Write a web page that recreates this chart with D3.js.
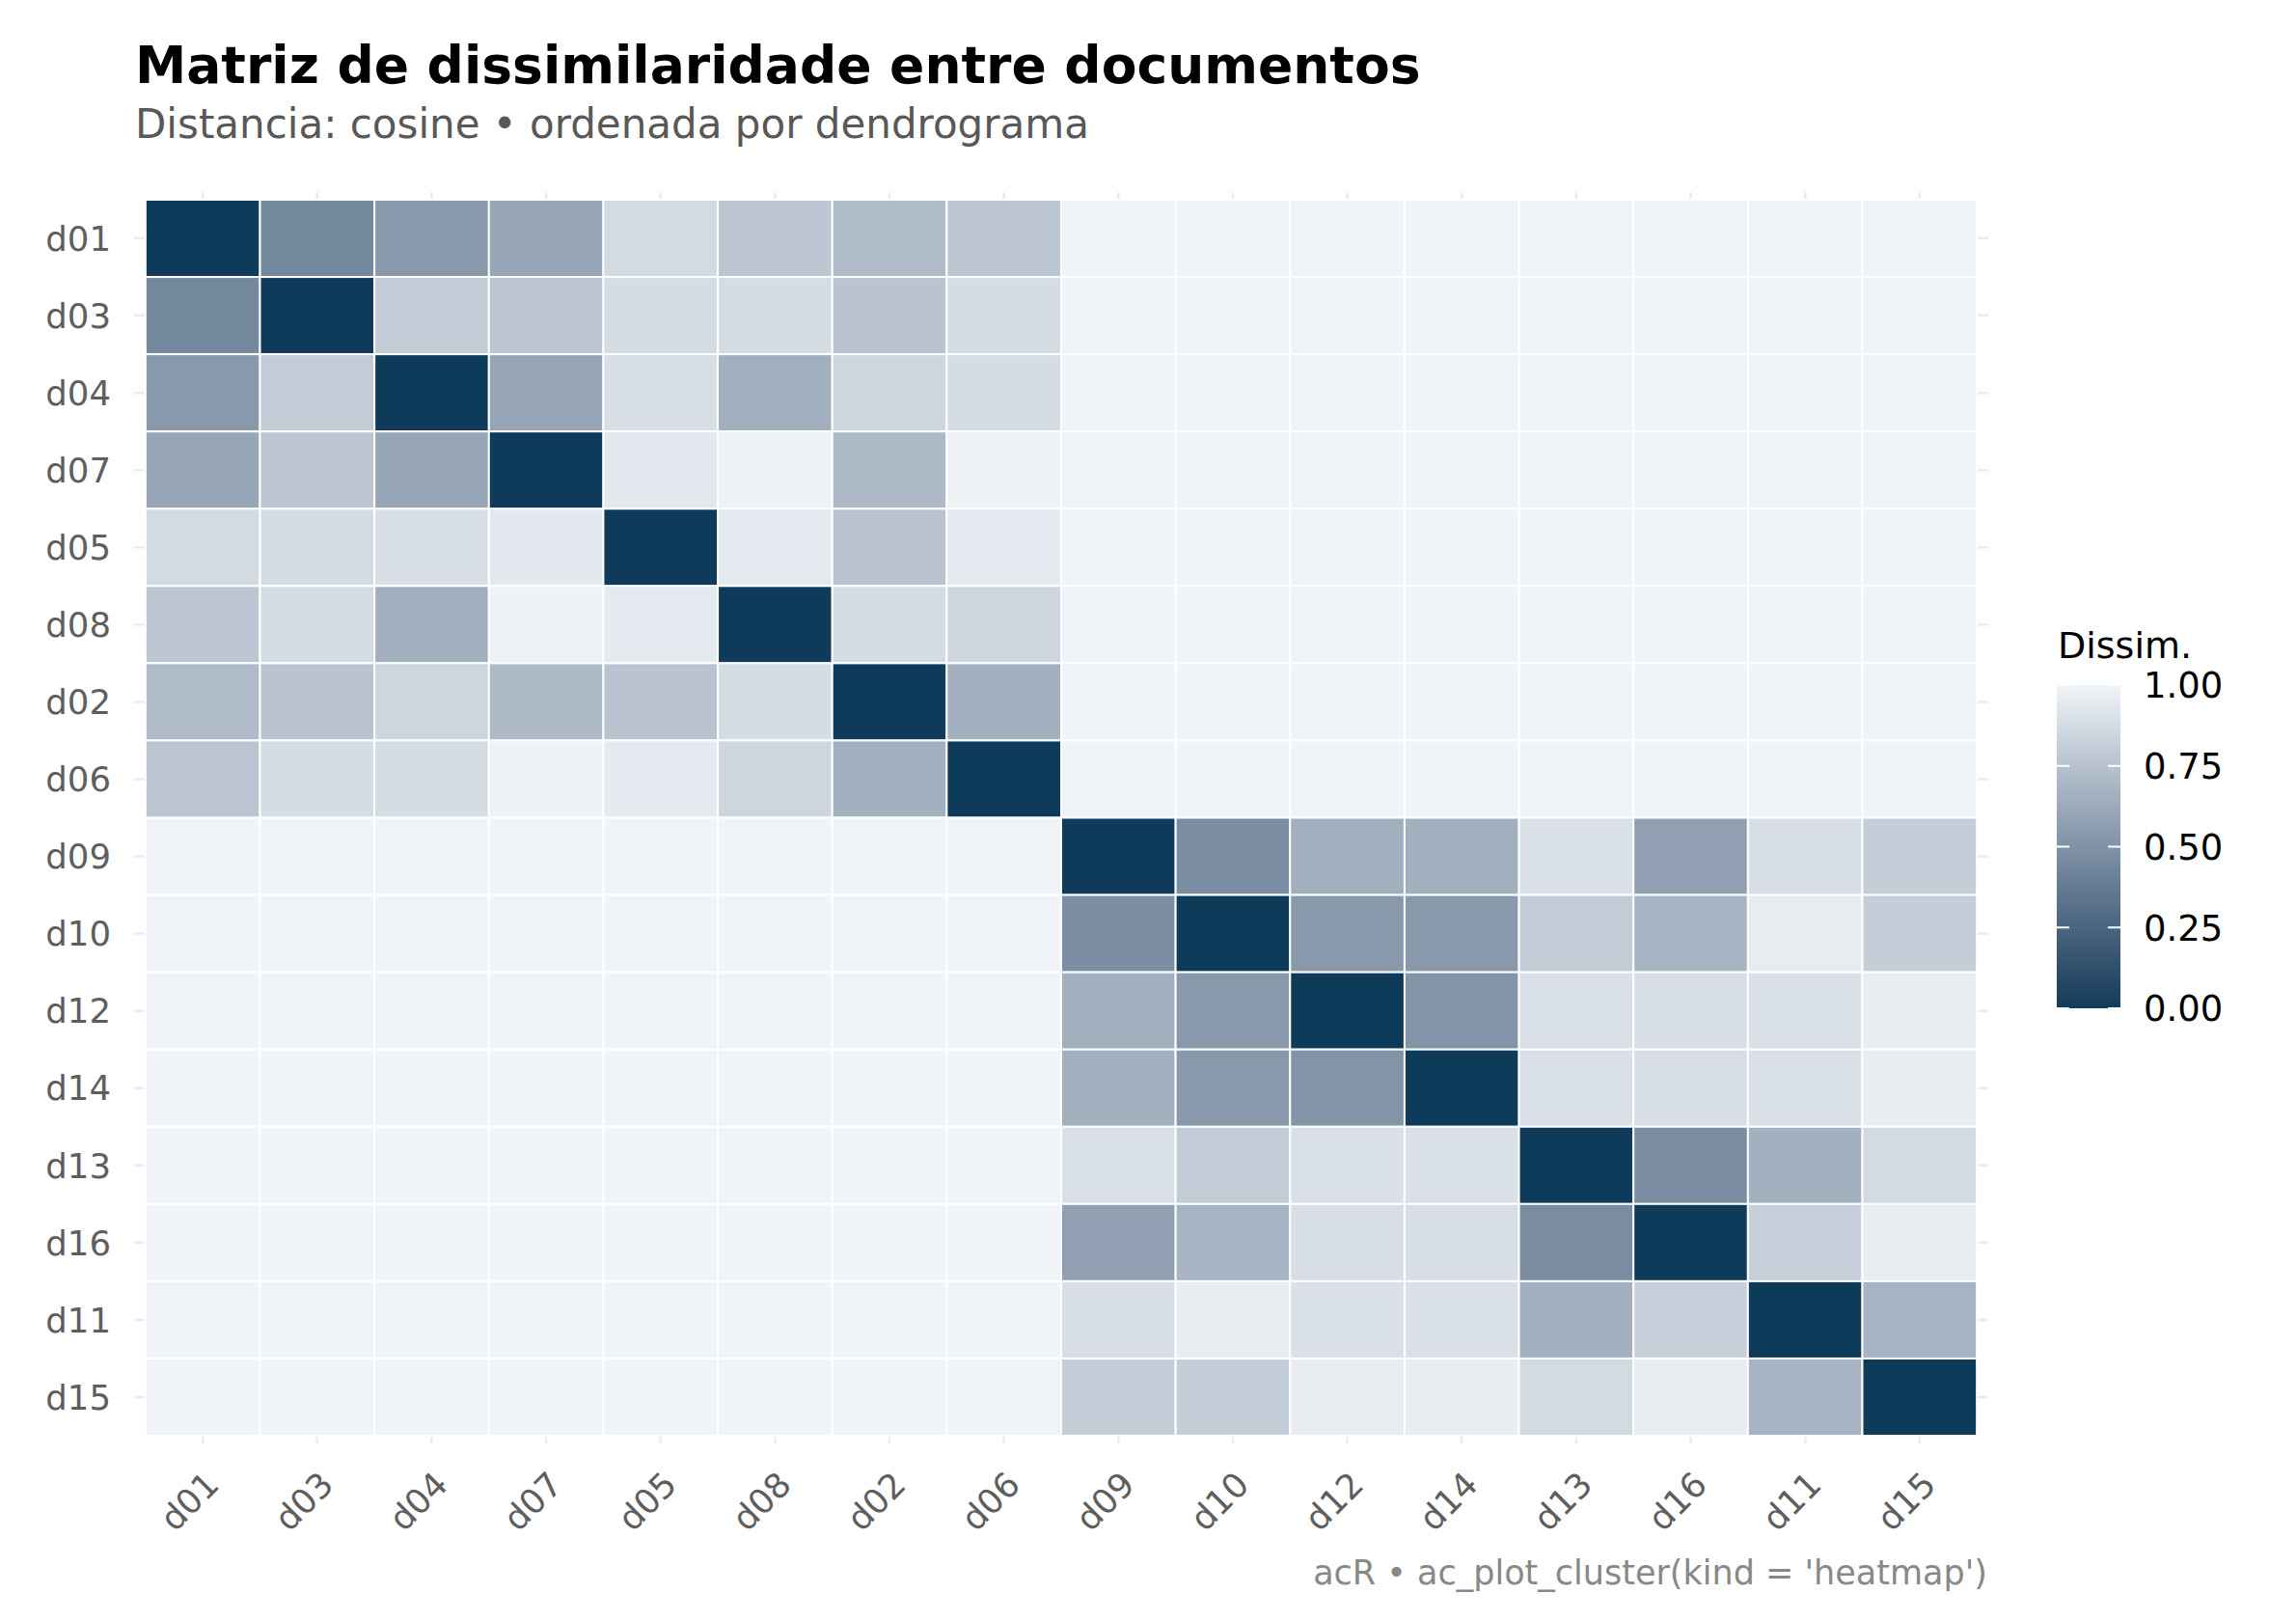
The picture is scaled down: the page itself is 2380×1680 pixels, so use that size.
<!DOCTYPE html>
<html>
<head>
<meta charset="utf-8">
<script src="https://cdn.jsdelivr.net/npm/d3@7"></script>
<style>
  body { margin: 0; background: #ffffff; }
  svg { display: block; font-family: "DejaVu Sans", sans-serif; }
</style>
</head>
<body>
<svg id="chart" width="2380" height="1680"></svg>
<script>
// documents, ordered by the dendrogram
const docs = ["d01", "d03", "d04", "d07", "d05", "d08", "d02", "d06",
              "d09", "d10", "d12", "d14", "d13", "d16", "d11", "d15"];

// cosine dissimilarity (rows/cols follow docs)
const dissim = [
  [0,    0.45, 0.54, 0.61, 0.87, 0.77, 0.715,0.765, 1, 1, 1, 1, 1, 1, 1, 1],
  [0.45, 0,    0.80, 0.77, 0.88, 0.88, 0.76, 0.88,  1, 1, 1, 1, 1, 1, 1, 1],
  [0.54, 0.80, 0,    0.60, 0.89, 0.655,0.85, 0.88,  1, 1, 1, 1, 1, 1, 1, 1],
  [0.61, 0.77, 0.60, 0,    0.94, 0.99, 0.71, 0.99,  1, 1, 1, 1, 1, 1, 1, 1],
  [0.87, 0.88, 0.89, 0.94, 0,    0.95, 0.76, 0.95,  1, 1, 1, 1, 1, 1, 1, 1],
  [0.77, 0.88, 0.655,0.99, 0.95, 0,    0.88, 0.85,  1, 1, 1, 1, 1, 1, 1, 1],
  [0.715,0.76, 0.85, 0.71, 0.76, 0.88, 0,    0.66,  1, 1, 1, 1, 1, 1, 1, 1],
  [0.765,0.88, 0.88, 0.99, 0.95, 0.85, 0.66, 0,     1, 1, 1, 1, 1, 1, 1, 1],
  [1, 1, 1, 1, 1, 1, 1, 1,  0,    0.48, 0.655,0.655,0.90, 0.575,0.89, 0.81],
  [1, 1, 1, 1, 1, 1, 1, 1,  0.48, 0,    0.54, 0.54, 0.80, 0.68, 0.96, 0.81],
  [1, 1, 1, 1, 1, 1, 1, 1,  0.655,0.54, 0,    0.51, 0.90, 0.89, 0.90, 0.965],
  [1, 1, 1, 1, 1, 1, 1, 1,  0.655,0.54, 0.51, 0,    0.90, 0.89, 0.90, 0.965],
  [1, 1, 1, 1, 1, 1, 1, 1,  0.90, 0.80, 0.90, 0.90, 0,    0.47, 0.66, 0.87],
  [1, 1, 1, 1, 1, 1, 1, 1,  0.575,0.68, 0.89, 0.89, 0.47, 0,    0.82, 0.965],
  [1, 1, 1, 1, 1, 1, 1, 1,  0.89, 0.96, 0.90, 0.90, 0.66, 0.82, 0,    0.68],
  [1, 1, 1, 1, 1, 1, 1, 1,  0.81, 0.81, 0.965,0.965,0.87, 0.965,0.68, 0]
];

const legendTicks = [0, 0.25, 0.5, 0.75, 1];

const titleText = "Matriz de dissimilaridade entre documentos";
const subtitleText = "Distancia: cosine \u2022 ordenada por dendrograma";
const captionText = "acR \u2022 ac_plot_cluster(kind = 'heatmap')";
const legendTitle = "Dissim.";

const svg = d3.select("#chart");

let panel = {left: 139, right: 2061, top: 199, bottom: 1496};

let x = d3.scaleBand().domain(docs).range([panel.left, panel.right])
  .paddingInner(0).paddingOuter(0.1);
let y = d3.scaleBand().domain(docs).range([panel.top, panel.bottom])
  .paddingInner(0).paddingOuter(0.1);

let color = d3.scaleLinear().domain([0, 1])
  .range(["#0f3b5a", "#f0f4f8"]).interpolate(d3.interpolateLab);

// cells
let cells = [];
for (let i = 0; i < docs.length; i++) {
  for (let j = 0; j < docs.length; j++) {
    cells.push({row: docs[i], col: docs[j], value: dissim[i][j]});
  }
}

// grid lines (only visible in the expansion margin)
let grid = svg.append("g");
grid.selectAll("line.v")
  .data(docs)
  .enter().append("line")
  .attr("x1", d => x(d) + x.bandwidth() / 2)
  .attr("x2", d => x(d) + x.bandwidth() / 2)
  .attr("y1", panel.top)
  .attr("y2", panel.bottom)
  .style("stroke", "#ebebeb")
  .style("stroke-width", 2.5);
grid.selectAll("line.h")
  .data(docs)
  .enter().append("line")
  .attr("y1", d => y(d) + y.bandwidth() / 2)
  .attr("y2", d => y(d) + y.bandwidth() / 2)
  .attr("x1", panel.left)
  .attr("x2", panel.right)
  .style("stroke", "#ebebeb")
  .style("stroke-width", 2.5);

svg.append("g")
  .selectAll("rect")
  .data(cells)
  .enter().append("rect")
  .attr("x", d => x(d.col))
  .attr("y", d => y(d.row))
  .attr("width", x.bandwidth())
  .attr("height", y.bandwidth())
  .style("fill", d => color(d.value))
  .style("stroke", "#ffffff")
  .style("stroke-width", 2);

// y axis labels
svg.append("g")
  .selectAll("text")
  .data(docs)
  .enter().append("text")
  .attr("x", 115)
  .attr("y", d => y(d) + y.bandwidth() / 2)
  .attr("dy", "0.36em")
  .attr("text-anchor", "end")
  .style("font-size", "35.5px")
  .style("fill", "#5e5e5e")
  .text(d => d);

// x axis labels, rotated 45
svg.append("g")
  .selectAll("text")
  .data(docs)
  .enter().append("text")
  .attr("transform", d => "translate(" + (x(d) + x.bandwidth() / 2) + ",1522) rotate(-45)")
  .attr("dy", "0.75em")
  .attr("text-anchor", "end")
  .style("font-size", "35.5px")
  .style("fill", "#5e5e5e")
  .text(d => d);

// titles
svg.append("text")
  .attr("x", 140).attr("y", 86)
  .style("font-size", "53.5px")
  .style("font-weight", "bold")
  .style("fill", "#000000")
  .text(titleText);

svg.append("text")
  .attr("x", 140).attr("y", 143)
  .style("font-size", "42px")
  .style("fill", "#585858")
  .text(subtitleText);

svg.append("text")
  .attr("x", 2060).attr("y", 1642)
  .attr("text-anchor", "end")
  .style("font-size", "35px")
  .style("fill", "#888888")
  .text(captionText);

// legend
let legend = {left: 2132, width: 66, top: 710, bottom: 1045};
let ly = d3.scaleLinear().domain([0, 1]).range([legend.bottom, legend.top]);

let defs = svg.append("defs");
let grad = defs.append("linearGradient")
  .attr("id", "dissimGrad")
  .attr("x1", "0").attr("y1", "1").attr("x2", "0").attr("y2", "0");
grad.selectAll("stop")
  .data(d3.range(0, 1.0001, 0.05))
  .enter().append("stop")
  .attr("offset", d => d)
  .attr("stop-color", d => color(d));

svg.append("rect")
  .attr("x", legend.left)
  .attr("y", legend.top)
  .attr("width", legend.width)
  .attr("height", legend.bottom - legend.top)
  .style("fill", "url(#dissimGrad)");

let lt = svg.append("g");
lt.selectAll("line.l")
  .data(legendTicks)
  .enter().append("line")
  .attr("x1", legend.left).attr("x2", legend.left + 13)
  .attr("y1", d => ly(d)).attr("y2", d => ly(d))
  .style("stroke", "#ffffff").style("stroke-width", 2);
lt.selectAll("line.r")
  .data(legendTicks)
  .enter().append("line")
  .attr("x1", legend.left + legend.width - 13).attr("x2", legend.left + legend.width)
  .attr("y1", d => ly(d)).attr("y2", d => ly(d))
  .style("stroke", "#ffffff").style("stroke-width", 2);

svg.append("g")
  .selectAll("text")
  .data(legendTicks)
  .enter().append("text")
  .attr("x", 2222)
  .attr("y", d => ly(d))
  .attr("dy", "0.36em")
  .style("font-size", "37px")
  .style("fill", "#000000")
  .text(d => d3.format(".2f")(d));

svg.append("text")
  .attr("x", 2133).attr("y", 682)
  .style("font-size", "38px")
  .style("fill", "#000000")
  .text(legendTitle);
</script>
</body>
</html>
